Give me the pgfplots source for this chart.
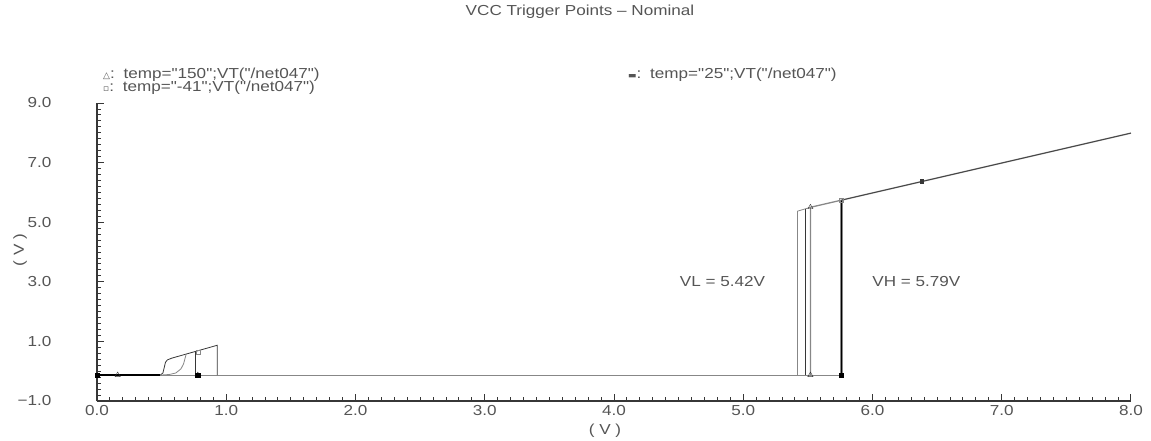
\documentclass[border=0pt]{standalone}
\usepackage{pgfplots}
\pgfplotsset{compat=1.18}
\usepackage{fontspec}
\setmainfont{Liberation Sans}[Ligatures=TeXOff, FakeStretch=1.18]
\newfontfamily\symfont{DejaVu Sans}
\definecolor{txt}{RGB}{85,85,85}
\definecolor{lg}{RGB}{135,135,135}
\definecolor{dg}{RGB}{55,55,55}
\begin{document}
\begin{tikzpicture}[x=1pt,y=1pt]
\path[use as bounding box] (-97,-39) rectangle (1054,401);
\begin{axis}[at={(0,0)}, anchor=south west, scale only axis,
  width=1034pt, height=298pt,
  xmin=0, xmax=8, ymin=-1, ymax=9,
  axis x line*=bottom, axis y line*=left,
  xtick={0,...,8}, ytick={-1,1,...,9},
  xticklabels={0.0,1.0,2.0,3.0,4.0,5.0,6.0,7.0,8.0},
  yticklabels={−1.0,1.0,3.0,5.0,7.0,9.0},
  minor x tick num=9, minor y tick num=9,
  tick align=inside, major tick length=7pt, minor tick length=4pt,
  axis line style={dg, line width=1.1pt},
  every tick/.style={dg, line width=0.9pt},
  tick label style={font=\fontsize{14.5}{17}\selectfont, text=txt},
  xticklabel style={yshift=-1pt},
  yticklabel style={xshift=-42pt},
  clip=false,
]
% baseline
\addplot[black, line width=2pt] coordinates {(0,-0.13)(0.49,-0.13)};
\addplot[lg, line width=0.9pt] coordinates {(0.49,-0.13)(5.76,-0.13)};
% small hysteresis near zero
\addplot[dg, line width=0.8pt] coordinates {(0.49,-0.13)(0.51,-0.06)(0.52,0.12)(0.53,0.30)(0.545,0.38)(0.58,0.44)(0.93,0.87)(0.93,-0.13)};
\addplot[lg, line width=0.8pt] coordinates {(0.49,-0.13)(0.56,-0.11)(0.61,-0.06)(0.65,0.08)(0.67,0.25)(0.69,0.57)};
\addplot[dg, line width=0.8pt] coordinates {(0.76,-0.13)(0.76,0.66)};
% trigger region
\addplot[lg, line width=0.8pt] coordinates {(5.42,-0.13)(5.42,5.37)(5.52,5.50)};
\addplot[dg, line width=0.8pt] coordinates {(5.48,-0.13)(5.48,5.44)};
\addplot[lg, line width=1.3pt] coordinates {(5.52,-0.13)(5.52,5.50)(5.76,5.74)};
\addplot[lg, line width=3pt] coordinates {(5.76,-0.13)(5.76,5.74)};
\addplot[black, line width=1.6pt] coordinates {(5.76,-0.13)(5.76,5.74)};
\addplot[lg, line width=1.4pt] coordinates {(5.76,5.74)(8,7.99)};
\addplot[dg, line width=0.6pt] coordinates {(5.76,5.74)(8,7.99)};
% markers
\addplot[only marks, mark=triangle, mark size=3pt, dg] coordinates {(0.16,-0.13)(0.78,-0.13)(5.52,-0.13)(5.52,5.50)};
\addplot[only marks, mark=square, mark size=2pt, lg] coordinates {(0.78,0.64)(5.76,5.74)};
\addplot[only marks, mark=square*, mark size=2.2pt, black] coordinates {(0,-0.13)(0.78,-0.13)(5.76,-0.13)};
\addplot[only marks, mark=square*, mark size=1.8pt, dg] coordinates {(6.38,6.38)};
% annotations
\node[txt, font=\fontsize{14.5}{17}\selectfont] at (axis cs:4.84,3.0) {VL = 5.42V};
\node[txt, font=\fontsize{14.5}{17}\selectfont] at (axis cs:6.34,3.0) {VH = 5.79V};
\end{axis}
\node[txt, font=\fontsize{14.5}{17}\selectfont] at (483,389) {VCC Trigger Points – Nominal};
\node[txt, anchor=west, font=\fontsize{14.5}{17}\selectfont, inner sep=0pt] at (6,326) {{\symfont\fontsize{9}{10}\selectfont △}:\, temp="150";VT("/net047")};
\node[txt, anchor=west, font=\fontsize{14.5}{17}\selectfont, inner sep=0pt] at (6,313) {{\symfont\fontsize{9}{10}\selectfont ▫}:\, temp="-41";VT("/net047")};
\node[txt, anchor=west, font=\fontsize{14.5}{17}\selectfont, inner sep=0pt] at (531,326) {{\symfont\fontsize{9}{10}\selectfont ▬}:\, temp="25";VT("/net047")};
\node[txt, rotate=90, font=\fontsize{14.5}{17}\selectfont] at (-77,151) {( V )};
\node[txt, font=\fontsize{14.5}{17}\selectfont] at (508,-30) {( V )};
\end{tikzpicture}
\end{document}
